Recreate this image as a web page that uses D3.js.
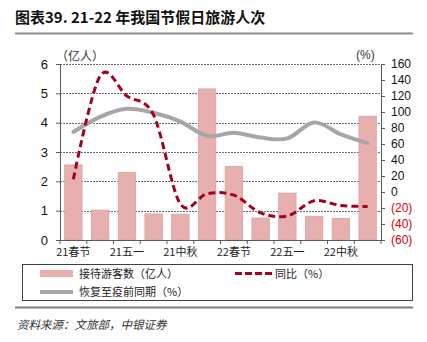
<!DOCTYPE html>
<html>
<head>
<meta charset="utf-8">
<script src="https://cdn.jsdelivr.net/npm/d3@7/dist/d3.min.js"></script>
<style>
  html, body { margin: 0; padding: 0; background: #fff; }
  svg { display: block; }
</style>
</head>
<body>
<svg id="chart" width="427" height="342"></svg>
<script>
// Holidays, 2021-2022
const categories = ["21春节", "21清明", "21五一", "21端午", "21中秋", "21国庆",
                    "22春节", "22清明", "22五一", "22端午", "22中秋", "22国庆"];
// Tourist visits received (hundred million)
const visitors = [2.56, 1.02, 2.30, 0.89, 0.88, 5.15, 2.51, 0.75, 1.60, 0.80, 0.73, 4.22];
// Year-on-year change (%)
const yoy = [16, 145, 120, 96, -15, -2, -4, -26, -30, -11, -17, -18];
// Recovery versus the same pre-pandemic period (%)
const recovery = [75, 94, 104, 99, 88, 70, 74, 68, 67, 87, 72, 61];
// Axis ticks
const leftTicks = [0, 1, 2, 3, 4, 5, 6];
const rightTicks = [160, 140, 120, 100, 80, 60, 40, 20, 0, -20, -40, -60];

const svg = d3.select("#chart");
const numFont = "'Liberation Sans', Arial, sans-serif";
const cjkFont = "'Noto Sans CJK SC', 'Noto Sans', sans-serif";

const plotL = 60, plotR = 381, plotT = 64, plotB = 240;

const x = d3.scaleBand().domain(categories).range([plotL, plotR])
  .paddingInner(0.35).paddingOuter(0.175);
const yL = d3.scaleLinear().domain([0, 6]).range([plotB, plotT]);
const yR = d3.scaleLinear().domain([-60, 160]).range([plotB, plotT]);
const cx = d => x(d) + x.bandwidth() / 2;

// Title and rule beneath it
svg.append("text").attr("x", 15).attr("y", 23)
  .attr("font-family", cjkFont).attr("font-size", 15).attr("font-weight", "bold")
  .attr("fill", "#111").text("图表39. 21-22 年我国节假日旅游人次");
svg.append("line").attr("x1", 15).attr("x2", 413).attr("y1", 33.5).attr("y2", 33.5)
  .attr("stroke", "#8c8c8c").attr("stroke-width", 2);

// Horizontal gridlines
svg.append("g").selectAll("line").data(leftTicks.filter(d => d > 0)).join("line")
  .attr("x1", plotL).attr("x2", plotR)
  .attr("y1", d => Math.round(yL(d)) + 0.5).attr("y2", d => Math.round(yL(d)) + 0.5)
  .attr("stroke", "#6e6e6e").attr("stroke-width", 1).attr("stroke-dasharray", "2,1");

// Bars
svg.append("g").selectAll("rect").data(categories).join("rect")
  .attr("x", d => x(d)).attr("width", x.bandwidth())
  .attr("y", (d, i) => yL(visitors[i])).attr("height", (d, i) => yL(0) - yL(visitors[i]))
  .attr("fill", "#e8afaf").attr("stroke", "#d6a3a3").attr("stroke-width", 0.8);

// Smoothed line generator on the right-hand scale
const lineR = d3.line().x((d, i) => cx(categories[i])).y(d => yR(d))
  .curve(d3.curveCatmullRom.alpha(0));

// Recovery line
svg.append("path").datum(recovery).attr("d", lineR)
  .attr("fill", "none").attr("stroke", "#a6a6a6").attr("stroke-width", 4)
  .attr("stroke-linecap", "round");

// YoY line
svg.append("path").datum(yoy).attr("d", lineR)
  .attr("fill", "none").attr("stroke", "#a50021").attr("stroke-width", 3)
  .attr("stroke-dasharray", "7,4");

// Left axis
const gL = svg.append("g").attr("transform", `translate(${plotL},0)`)
  .call(d3.axisLeft(yL).tickValues(leftTicks).tickSize(4).tickPadding(8).tickFormat(d3.format("d")));
gL.select(".domain").attr("stroke", "#595959");
gL.selectAll(".tick line").attr("stroke", "#595959");
gL.selectAll("text").attr("font-family", numFont).attr("font-size", 13).attr("fill", "#111");

// Right axis
const gR = svg.append("g").attr("transform", `translate(${plotR},0)`)
  .call(d3.axisRight(yR).tickValues(rightTicks).tickSize(4).tickPadding(6)
    .tickFormat(d => d < 0 ? `(${-d})` : d));
gR.select(".domain").attr("stroke", "#595959");
gR.selectAll(".tick line").attr("stroke", "#595959");
gR.selectAll("text").attr("font-family", numFont).attr("font-size", 12)
  .attr("fill", d => d < 0 ? "#e00000" : "#111");

// Bottom axis: ticks at every band boundary, labels on every other category
const gB = svg.append("g");
gB.append("line").attr("x1", plotL).attr("x2", plotR).attr("y1", plotB + 0.5).attr("y2", plotB + 0.5)
  .attr("stroke", "#595959");
const bounds = d3.range(categories.length + 1).map(i => plotL + i * x.step());
gB.selectAll("line.tk").data(bounds).join("line").attr("class", "tk")
  .attr("x1", d => d).attr("x2", d => d).attr("y1", plotB).attr("y2", plotB + 4)
  .attr("stroke", "#595959");
gB.selectAll("text").data(categories.filter((d, i) => i % 2 === 0)).join("text")
  .attr("x", d => cx(d)).attr("y", plotB + 16).attr("text-anchor", "middle")
  .attr("font-family", cjkFont).attr("font-size", 11).attr("fill", "#222").text(d => d);

// Unit labels
svg.append("text").attr("x", 56).attr("y", 61).attr("font-family", cjkFont)
  .attr("font-size", 12).attr("fill", "#333").text("（亿人）");
svg.append("text").attr("x", 356).attr("y", 59).attr("font-family", numFont)
  .attr("font-size", 12).attr("fill", "#333").text("(%)");

// Legend
svg.append("rect").attr("x", 22.5).attr("y", 264.5).attr("width", 390).attr("height", 36)
  .attr("fill", "none").attr("stroke", "#404040").attr("stroke-width", 1);
const lg = svg.append("g").attr("font-family", cjkFont).attr("font-size", 11).attr("fill", "#222");
lg.append("rect").attr("x", 40).attr("y", 270).attr("width", 33).attr("height", 7).attr("fill", "#e8afaf");
lg.append("text").attr("x", 79).attr("y", 277.5).text("接待游客数（亿人）");
lg.append("line").attr("x1", 235).attr("x2", 273).attr("y1", 273.5).attr("y2", 273.5)
  .attr("stroke", "#a50021").attr("stroke-width", 3).attr("stroke-dasharray", "7,3");
lg.append("text").attr("x", 275).attr("y", 277.5).text("同比（%）");
lg.append("line").attr("x1", 40).attr("x2", 73).attr("y1", 292).attr("y2", 292)
  .attr("stroke", "#a6a6a6").attr("stroke-width", 4);
lg.append("text").attr("x", 79).attr("y", 296).text("恢复至疫前同期（%）");

// Rule and source note
svg.append("line").attr("x1", 15).attr("x2", 413).attr("y1", 307.5).attr("y2", 307.5)
  .attr("stroke", "#7f7f7f").attr("stroke-width", 2);
svg.append("text").attr("x", 17).attr("y", 329).attr("font-family", cjkFont)
  .attr("font-size", 11.5).attr("font-style", "italic").attr("fill", "#333")
  .text("资料来源：文旅部，中银证券");
</script>
</body>
</html>
